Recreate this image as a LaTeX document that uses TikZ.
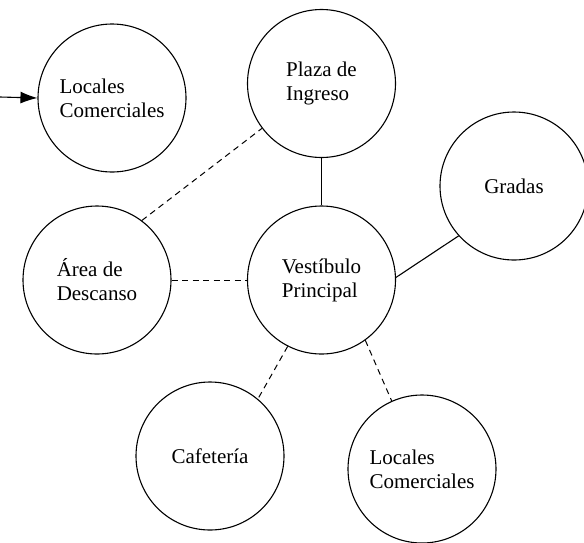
\documentclass[tikz,border=0pt]{standalone}
\usepackage{fontspec}
\setmainfont{Liberation Serif}
\usetikzlibrary{arrows.meta}
\begin{document}
\begin{tikzpicture}[x=1pt, y=-1pt, line width=1.1pt,
  every node/.style={font=\fontsize{21}{24}\selectfont},
  zone/.style={circle, draw, minimum size=148pt, inner sep=0pt, align=left}]
\useasboundingbox (0,0) rectangle (584,542);
% spaces
\node[zone] (loca) at (112,98) {Locales\\Comerciales};
\node[zone] (plaza) at (321.5,83.5) {Plaza de\\Ingreso};
\node[zone] (gradas) at (514,186) {Gradas};
\node[zone] (descanso) at (97,280) {Área de\\Descanso};
\node[zone] (vest) at (321.5,280) {Vestíbulo\\Principal};
\node[zone] (cafe) at (210,456) {Cafetería};
\node[zone] (locb) at (422,469) {Locales\\Comerciales};
% entrance
\coordinate (entry) at (0,97);
\draw[-{Latex[length=17pt,width=12pt]}] (entry) -- (loca.west);
% direct links
\draw (plaza) -- (vest);
\draw (gradas.222) -- (vest.2);
% indirect links
\foreach \a/\b in {descanso.53/plaza.217, descanso/vest, vest.243/cafe.50, vest.306/locb.114} {
  \draw[dash pattern=on 6pt off 4.5pt, line width=1pt] (\a) -- (\b);
}
\end{tikzpicture}
\end{document}
